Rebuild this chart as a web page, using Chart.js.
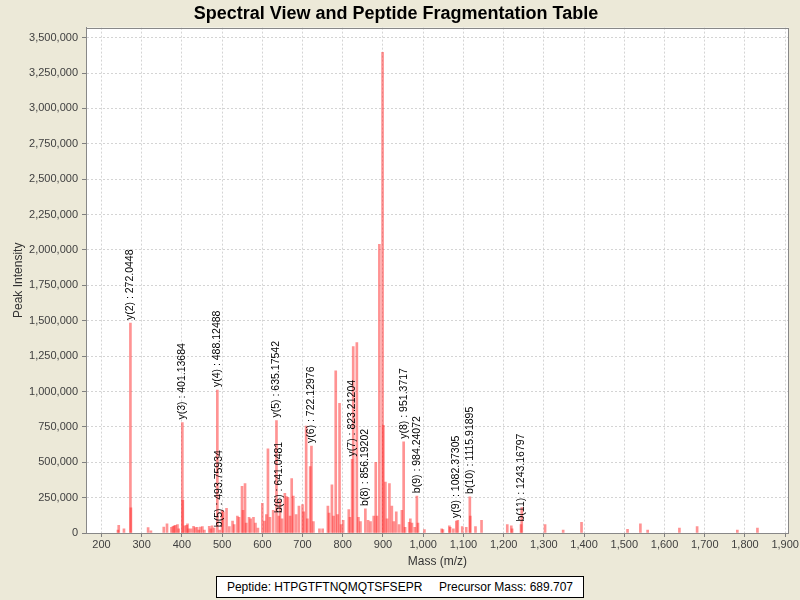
<!DOCTYPE html>
<html>
<head>
<meta charset="utf-8">
<script src="https://cdn.jsdelivr.net/npm/chart.js@4/dist/chart.umd.min.js"></script>
<style>
  html, body { margin: 0; padding: 0; background: #ECE9D8; }
  #wrap { position: relative; width: 800px; height: 600px; }
  #c { position: absolute; left: 0; top: 0; }
  #legend {
    position: absolute; left: 216px; top: 576px; width: 368px; height: 22px;
    box-sizing: border-box; border: 1px solid #000; background: #fff;
    font: 12px "Liberation Sans", Arial, sans-serif; color: #000;
    text-align: center; line-height: 20px; white-space: pre;
  }
</style>
</head>
<body>
<div id="wrap">
  <canvas id="c" width="800" height="600"></canvas>
  <div id="legend">Peptide: HTPGTFTNQMQTSFSEPR     Precursor Mass: 689.707</div>
</div>
<script>
// ---- data ----
const chartTitle = "Spectral View and Peptide Fragmentation Table";
const xAxisTitle = "Mass (m/z)";
const yAxisTitle = "Peak Intensity";

const xTickValues = [200, 300, 400, 500, 600, 700, 800, 900, 1000, 1100, 1200, 1300, 1400, 1500, 1600, 1700, 1800, 1900];
const yTickValues = [0, 250000, 500000, 750000, 1000000, 1250000, 1500000, 1750000, 2000000,
  2250000, 2500000, 2750000, 3000000, 3250000, 3500000];

const peakMz = [
  241, 243, 256, 272.0448, 273.2, 316, 323, 355, 363, 374, 378, 381, 384, 389, 392,
  401.13684, 402.3, 407, 412, 414, 417, 423, 429, 433, 438, 442, 446, 451, 456, 468, 472, 475, 480,
  488.12488, 493.75934, 500, 503, 511, 518, 526, 530, 538, 542, 549.5, 552, 557, 560, 567, 571, 578,
  583, 589, 600, 605, 610, 614, 619, 627, 635.17542, 641.0481, 644, 649, 656, 660, 664, 669, 673,
  677, 684, 691, 700, 703, 709, 712, 719, 722.12976, 727, 742, 750, 763, 766, 773, 777, 782.5, 787,
  792, 796, 801, 815, 818, 823.21204, 826, 835, 839, 844, 856.19202, 863, 869, 877, 882, 885, 891,
  899, 901, 906, 910, 916, 922, 927, 933, 940, 947, 951.3717, 955, 965, 968, 972, 979, 984.24072,
  987, 1003, 1046, 1049, 1065, 1067, 1075, 1082.37305, 1086, 1097, 1107, 1115.91895, 1117, 1130,
  1145, 1209, 1219, 1221, 1243.16797, 1245, 1303, 1348, 1393.6, 1508, 1540, 1558, 1637, 1681, 1781, 1831
];
const peakIntensity = [
  20000, 55000, 30000, 1483000, 177000, 38000, 15000, 42000, 65000, 40000, 48000, 50000, 55000, 60000, 30000,
  780000, 230000, 50000, 55000, 65000, 30000, 30000, 48000, 38000, 40000, 20000, 42000, 45000, 20000, 48000, 30000, 50000, 35000,
  1010000, 20000, 160000, 150000, 175000, 45000, 85000, 60000, 120000, 110000, 330000, 160000, 350000, 70000, 110000, 100000, 110000,
  70000, 35000, 210000, 85000, 130000, 594000, 110000, 160000, 795000, 120000, 230000, 100000, 280000, 257000, 250000, 120000, 385000,
  260000, 130000, 190000, 200000, 150000, 755000, 100000, 470000, 615000, 80000, 30000, 30000, 190000, 140000, 340000, 120000, 1146000, 130000,
  917000, 60000, 90000, 165000, 110000, 520000, 1318000, 1346000, 110000, 80000, 170000, 90000, 80000, 120000, 500000, 120000, 2040000,
  3397000, 760000, 360000, 100000, 350000, 190000, 80000, 150000, 60000, 160000, 645000, 40000, 75000, 100000, 70000, 40000, 260000,
  70000, 25000, 30000, 25000, 50000, 40000, 30000, 85000, 90000, 45000, 40000, 255000, 120000, 45000,
  90000, 60000, 50000, 30000, 60000, 180000, 60000, 20000, 75000, 26000, 65000, 20000, 35000, 45000, 20000, 35000
];

const fragLabels = [
  "y(2) : 272.0448", "y(3) : 401.13684", "y(4) : 488.12488", "b(5) : 493.75934",
  "y(5) : 635.17542", "b(6) : 641.0481", "y(6) : 722.12976", "y(7) : 823.21204",
  "b(8) : 856.19202", "y(8) : 951.3717", "b(9) : 984.24072", "y(9) : 1082.37305",
  "b(10) : 1115.91895", "b(11) : 1243.16797"
];
const fragMz = [272.0448, 401.13684, 488.12488, 493.75934, 635.17542, 641.0481, 722.12976,
  823.21204, 856.19202, 951.3717, 984.24072, 1082.37305, 1115.91895, 1243.16797];
const fragIntensity = [1483000, 780000, 1010000, 20000, 795000, 120000, 615000,
  520000, 170000, 645000, 260000, 85000, 255000, 60000];

// ---- chart ----
const FONT = '"Liberation Sans", Arial, sans-serif';

const plotBg = {
  id: 'plotBg',
  beforeDraw(chart) {
    const {ctx, chartArea: a} = chart;
    ctx.save();
    ctx.fillStyle = '#ffffff';
    ctx.fillRect(a.left, a.top, a.right - a.left, a.bottom - a.top);
    ctx.restore();
  },
  afterDraw(chart) {
    const {ctx, chartArea: a} = chart;
    ctx.save();
    ctx.setLineDash([]);
    ctx.strokeStyle = '#888888';
    ctx.lineWidth = 1;
    ctx.strokeRect(Math.round(a.left) + 0.5, Math.round(a.top) + 0.5,
      Math.round(a.right - a.left) - 1, Math.round(a.bottom - a.top));
    ctx.restore();
  }
};

const fragAnnot = {
  id: 'fragAnnot',
  afterDatasetsDraw(chart) {
    const {ctx, scales: {x, y}} = chart;
    ctx.save();
    ctx.font = '10.5px ' + FONT;
    ctx.fillStyle = '#000000';
    ctx.textAlign = 'left';
    ctx.textBaseline = 'middle';
    for (let i = 0; i < fragLabels.length; i++) {
      const px = x.getPixelForValue(fragMz[i]);
      const py = y.getPixelForValue(fragIntensity[i]) - 3;
      ctx.save();
      ctx.translate(px, py);
      ctx.rotate(-Math.PI / 2);
      ctx.fillText(fragLabels[i], 0, 0);
      ctx.restore();
    }
    ctx.restore();
  }
};

const points = peakMz.map((m, i) => ({x: m, y: peakIntensity[i]}));

new Chart(document.getElementById('c'), {
  type: 'bar',
  data: {
    datasets: [{
      data: points,
      backgroundColor: 'rgba(255,40,40,0.5)',
      borderWidth: 0,
      barThickness: 2,
      grouped: false
    }]
  },
  options: {
    responsive: false,
    animation: false,
    devicePixelRatio: 1,
    layout: { padding: { left: 0, right: 8, top: 0, bottom: 30 } },
    plugins: {
      legend: { display: false },
      tooltip: { enabled: false },
      title: {
        display: true,
        text: chartTitle,
        color: '#000000',
        font: { family: FONT, size: 18, weight: 'bold' },
        padding: { top: 3, bottom: 3 }
      }
    },
    scales: {
      x: {
        type: 'linear',
        min: 161.6,
        max: 1909,
        offset: false,
        afterFit(s) { s.height = 37; },
        afterBuildTicks(s) { s.ticks = xTickValues.map(v => ({value: v})); },
        ticks: {
          autoSkip: false,
          maxRotation: 0,
          padding: 1,
          color: '#404040',
          font: { family: FONT, size: 11 },
          callback: v => Number(v).toLocaleString('en-US')
        },
        grid: {
          color: '#d4d4d4',
          tickColor: '#808080',
          tickLength: 4,
          tickBorderDash: [],
          offset: false
        },
        border: { display: true, color: '#888888', dash: [2, 2] },
        title: {
          display: true,
          text: xAxisTitle,
          color: '#333333',
          font: { family: FONT, size: 12 },
          padding: { top: 0, bottom: 1 }
        }
      },
      y: {
        min: 0,
        max: 3571000,
        afterFit(s) { s.width = 86; },
        afterBuildTicks(s) { s.ticks = yTickValues.map(v => ({value: v})); },
        ticks: {
          autoSkip: false,
          padding: 4,
          color: '#404040',
          font: { family: FONT, size: 11 },
          callback: v => Number(v).toLocaleString('en-US')
        },
        grid: {
          color: '#d4d4d4',
          tickColor: '#808080',
          tickLength: 4,
          tickBorderDash: []
        },
        border: { display: true, color: '#888888', dash: [2, 2] },
        title: {
          display: true,
          text: yAxisTitle,
          color: '#333333',
          font: { family: FONT, size: 12 },
          padding: { top: 11, bottom: 0 }
        }
      }
    }
  },
  plugins: [plotBg, fragAnnot]
});
</script>
</body>
</html>
